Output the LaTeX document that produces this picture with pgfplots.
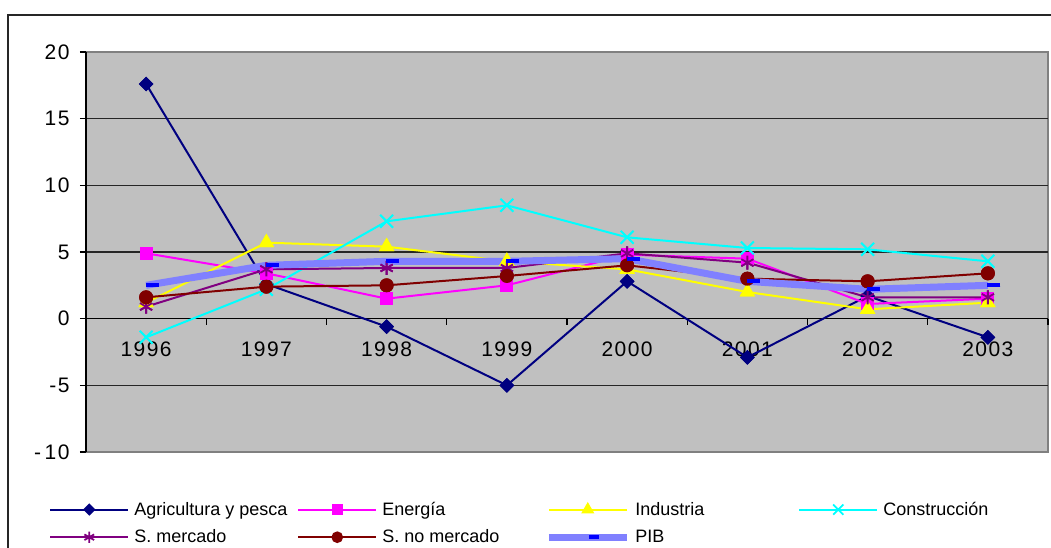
\documentclass[border=0pt]{standalone}
\usepackage{fontspec}
\setmainfont{Liberation Sans}
\newfontfamily\tickfont[LetterSpace=7]{Liberation Sans}
\usepackage{pgfplots}
\pgfplotsset{compat=1.18}
\usepackage{pgfplotstable}

\definecolor{cnavy}{HTML}{000080}
\definecolor{cmag}{HTML}{FF00FF}
\definecolor{cyel}{HTML}{FFFF00}
\definecolor{ccyan}{HTML}{00FFFF}
\definecolor{cpurp}{HTML}{800080}
\definecolor{cmaroon}{HTML}{800000}
\definecolor{cpib}{HTML}{8080FF}
\definecolor{cpibm}{HTML}{0000FF}
\definecolor{plotbg}{HTML}{C0C0C0}
\definecolor{bordergray}{HTML}{808080}

\pgfplotstableread{
x agr ene ind con smer snom pib
0 17.6 4.9 1.2 -1.4 0.9 1.6 2.5
1 2.6 3.4 5.7 2.2 3.7 2.4 4.0
2 -0.6 1.5 5.4 7.3 3.8 2.5 4.3
3 -5.0 2.5 4.3 8.5 3.8 3.2 4.3
4 2.8 4.8 3.7 6.1 4.9 4.0 4.5
5 -2.9 4.5 2.0 5.3 4.2 3.0 2.8
6 1.7 1.1 0.7 5.2 1.6 2.8 2.2
7 -1.4 1.5 1.2 4.3 1.6 3.4 2.5
}\datatable

\pgfplotsset{
  sagr/.style={cnavy, line width=2pt, mark=square*, mark size=4.2pt, mark options={rotate=45, fill=cnavy, solid}},
  sene/.style={cmag, line width=2pt, mark=square*, mark size=5.5pt, mark options={fill=cmag}},
  sind/.style={cyel, line width=2pt, mark=triangle*, mark size=7pt, mark options={fill=cyel}},
  scon/.style={ccyan, line width=2pt, mark=x, mark size=9pt, mark options={line width=1.8pt}},
  ssmer/.style={cpurp, line width=2pt, mark=asterisk, mark size=7pt, mark options={line width=1.8pt}},
  ssnom/.style={cmaroon, line width=2pt, mark=*, mark size=6pt, mark options={fill=cmaroon}},
  spib/.style={cpib, line width=7pt, line join=round, mark=-, mark size=6.5pt, mark options={cpibm, line width=4pt, xshift=6pt}},
}

\begin{document}
\begin{tikzpicture}[x=1pt,y=1pt]
\useasboundingbox (0,0) rectangle (1051,548);
\draw[line width=1.5pt, black!85] (8,0) -- (8,533) -- (1051,533);
\begin{axis}[
  at={(86pt,96pt)}, anchor=south west,
  scale only axis, width=962pt, height=400pt,
  xmin=-0.5, xmax=7.5, ymin=-10, ymax=20,
  axis background/.style={fill=plotbg, draw=bordergray, line width=2pt},
  axis x line=middle, axis y line=left,
  axis line style={-, black, line width=1.3pt},
  hide obscured x ticks=false,
  xtick={-0.5,0.5,...,7.5},
  x tick label as interval,
  xticklabels={1996,1997,1998,1999,2000,2001,2002,2003},
  ytick={-5,0,5,10,15},
  yticklabels={{-5},{0},{5},{10},{15}},
  extra y ticks={-10,20},
  extra y tick labels={{-\,10},{20}},
  extra y tick style={grid=none},
  ymajorgrids,
  major grid style={line width=1.3pt, black!85},
  tick style={black, line width=1.3pt},
  major tick length=6pt,
  tick align=outside,
  xticklabel style={font=\tickfont\fontsize{21}{24}\selectfont, yshift=-14pt},
  yticklabel style={font=\tickfont\fontsize{21}{24}\selectfont, xshift=-7pt},
  legend image code/.code={\draw[mark repeat=2,mark phase=2,#1, every mark/.append style={scale=0.8}] plot coordinates {(0pt,0pt) (39pt,0pt) (78pt,0pt)};},
  legend style={at={(axis description cs:-0.0415,-0.12)}, anchor=north west, draw=none, fill=none,
    legend columns=4, font=\fontsize{18}{21}\selectfont, nodes={inner sep=0pt},
    /tikz/every odd column/.append style={column sep=5pt},
    /tikz/every even column/.append style={column sep=0pt},
    row sep=13pt},
  legend cell align=left,
  clip=false,
]
\addplot[sagr] table[x=x,y=agr]{\datatable};
\addlegendentry{\makebox[163pt][l]{Agricultura y pesca}}
\addplot[sene] table[x=x,y=ene]{\datatable};
\addlegendentry{\makebox[163pt][l]{Energía}}
\addplot[sind] table[x=x,y=ind]{\datatable};
\addlegendentry{\makebox[163pt][l]{Industria}}
\addplot[scon] table[x=x,y=con]{\datatable};
\addlegendentry{\makebox[163pt][l]{Construcción}}
\addplot[ssmer] table[x=x,y=smer]{\datatable};
\addlegendentry{\makebox[163pt][l]{S. mercado}}
\addplot[ssnom] table[x=x,y=snom]{\datatable};
\addlegendentry{\makebox[163pt][l]{S. no mercado}}
\addplot[spib] table[x=x,y=pib]{\datatable};
\addlegendentry{\makebox[163pt][l]{PIB}}
% marks on top of all lines
\addplot[sagr, only marks, forget plot] table[x=x,y=agr]{\datatable};
\addplot[sene, only marks, forget plot] table[x=x,y=ene]{\datatable};
\addplot[sind, only marks, forget plot] table[x=x,y=ind]{\datatable};
\addplot[scon, only marks, forget plot] table[x=x,y=con]{\datatable};
\addplot[ssmer, only marks, forget plot] table[x=x,y=smer]{\datatable};
\addplot[ssnom, only marks, forget plot] table[x=x,y=snom]{\datatable};
\addplot[spib, only marks, forget plot] table[x=x,y=pib]{\datatable};
\end{axis}
\end{tikzpicture}
\end{document}
